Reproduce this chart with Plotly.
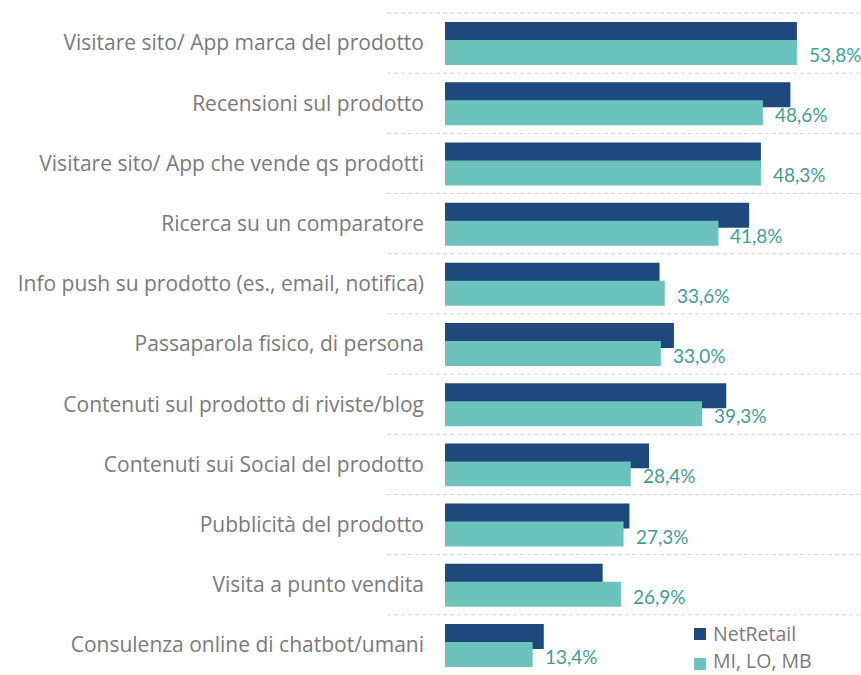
import plotly.graph_objects as go

categories = [
    "Visitare sito/ App marca del prodotto",
    "Recensioni sul prodotto",
    "Visitare sito/ App che vende qs prodotti",
    "Ricerca su un comparatore",
    "Info push su prodotto (es., email, notifica)",
    "Passaparola fisico, di persona",
    "Contenuti sul prodotto di riviste/blog",
    "Contenuti sui Social del prodotto",
    "Pubblicità del prodotto",
    "Visita a punto vendita",
    "Consulenza online di chatbot/umani",
]
netretail = [53.8, 52.8, 48.3, 46.5, 32.8, 35.0, 43.0, 31.2, 28.2, 24.1, 15.1]
milomb = [53.8, 48.6, 48.3, 41.8, 33.6, 33.0, 39.3, 28.4, 27.3, 26.9, 13.4]
series_names = ["NetRetail", "MI, LO, MB"]

DARK = "#1F497D"
TEAL = "#6BC3BB"
TEAL_TXT = "#3F9E94"
GRAY = "#7A7A7A"
series_colors = [DARK, TEAL]

W, H = 861, 675
ML, MT = 445, 13
PW, PH = W - ML, H - MT

n = len(categories)
pos = list(range(n))
w = 0.415
off_dark = -0.141
off_teal = 0.158

fig = go.Figure()
fig.add_trace(go.Bar(
    x=netretail, y=[p + off_dark for p in pos], orientation="h", width=w,
    name=series_names[0], marker=dict(color=DARK, line=dict(width=0)),
))
fig.add_trace(go.Bar(
    x=milomb, y=[p + off_teal for p in pos], orientation="h", width=w,
    name=series_names[1], marker=dict(color=TEAL, line=dict(width=0)),
))

annotations = []
for p, v in zip(pos, milomb):
    annotations.append(dict(
        x=v, y=p + off_teal, xref="x", yref="y",
        text=f"{v:.1f}%".replace(".", ","), showarrow=False,
        xanchor="left", yanchor="middle", xshift=10, yshift=-2,
        font=dict(family="Lato, sans-serif", size=19, color=TEAL_TXT),
    ))

ymin, ymax = -0.5, n - 0.5
shapes = []
for k in range(n):
    b = k - 0.5
    yp = (ymax - b) / (ymax - ymin)
    shapes.append(dict(
        type="line", xref="paper", yref="paper",
        x0=-0.139, x1=1.0, y0=yp, y1=yp,
        line=dict(color="#D0D0D0", width=1, dash="4px,3px"),
        layer="below",
    ))

# manual legend (pixel placement converted to paper coords)
def px_x(px):
    return (px - ML) / PW

def px_y(py):
    return (H - py) / PH

square_centers = [634, 664]
text_centers = [633, 660]
for name, col, cy, ty in zip(series_names, series_colors, square_centers, text_centers):
    shapes.append(dict(
        type="rect", xref="paper", yref="paper",
        x0=px_x(694), x1=px_x(706), y0=px_y(cy + 6), y1=px_y(cy - 6),
        fillcolor=col, line=dict(width=0),
    ))
    annotations.append(dict(
        x=px_x(712), y=px_y(ty), xref="paper", yref="paper",
        text=name, showarrow=False, xanchor="left", yanchor="middle",
        borderpad=0,
        font=dict(family="Open Sans, sans-serif", size=19.5, color=GRAY),
    ))

fig.update_layout(
    width=W, height=H,
    margin=dict(l=ML, r=0, t=MT, b=0, autoexpand=False),
    barmode="overlay",
    plot_bgcolor="white", paper_bgcolor="white",
    xaxis=dict(range=[0, 63.6], visible=False, showgrid=False, zeroline=False),
    yaxis=dict(
        range=[ymax, ymin], tickmode="array", tickvals=pos, ticktext=categories,
        showgrid=False, zeroline=False, showline=False, ticks="",
        ticklabelstandoff=20,
        tickfont=dict(family="Open Sans, sans-serif", size=21, color=GRAY),
    ),
    showlegend=False,
    annotations=annotations,
    shapes=shapes,
)

fig.write_html("out.html", config={"displayModeBar": False},
               post_script="document.body.style.margin='0';")
